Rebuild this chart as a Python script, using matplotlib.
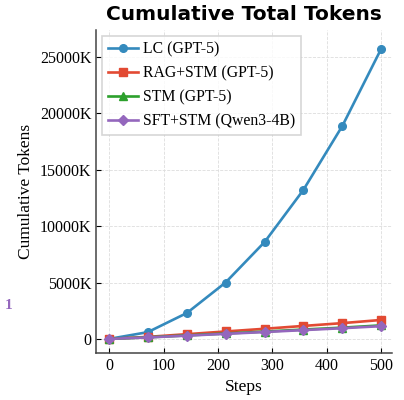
import matplotlib.pyplot as plt
from matplotlib.ticker import FuncFormatter

steps = [0, 71, 143, 214, 286, 357, 429, 500]
lc = [0, 600, 2300, 5000, 8600, 13200, 18900, 25700]
rag_stm = [0, 180, 420, 660, 900, 1150, 1400, 1680]
stm = [0, 140, 310, 480, 650, 830, 1000, 1200]
sft_stm = [0, 130, 290, 450, 610, 780, 950, 1130]

plt.rcParams['font.family'] = ['Liberation Serif', 'DejaVu Serif']

fig = plt.figure(figsize=(4.04, 4.0), dpi=100)
ax = fig.add_axes([0.238, 0.1175, 0.732, 0.8075])

ax.plot(steps, lc, '-o', color='#348ABD', linewidth=1.9, markersize=5.5, label='LC (GPT-5)')
ax.plot(steps, rag_stm, '-s', color='#E24A33', linewidth=1.9, markersize=5.5, label='RAG+STM (GPT-5)')
ax.plot(steps, stm, '-^', color='#2CA02C', linewidth=1.9, markersize=5.5, label='STM (GPT-5)')
ax.plot(steps, sft_stm, '-D', color='#9467BD', linewidth=1.9, markersize=5, label='SFT+STM (Qwen3-4B)')

ax.set_xlim(-24, 520)
ax.set_ylim(-1250, 27400)
ax.set_xticks([0, 100, 200, 300, 400, 500])
ax.set_yticks([0, 5000, 10000, 15000, 20000, 25000])
ax.yaxis.set_major_formatter(FuncFormatter(lambda v, p: '0' if v == 0 else f'{int(v)}K'))
ax.tick_params(direction='in', labelsize=11.5)

ax.spines['top'].set_visible(False)
ax.spines['right'].set_visible(False)
for s in ('left', 'bottom'):
    ax.spines[s].set_color('#444444')
    ax.spines[s].set_linewidth(1.1)
ax.grid(True, linestyle='--', color='#dddddd', linewidth=0.6)

ax.set_xlabel('Steps', fontsize=12.5)
ax.set_ylabel('Cumulative Tokens', fontsize=12.5)
ax.set_title('Cumulative Total Tokens', fontsize=14.5, fontweight='heavy', family='DejaVu Sans', pad=7)

leg = ax.legend(loc='upper left', fontsize=11.3, fancybox=False, edgecolor='#cccccc',
                handlelength=1.9, handletextpad=0.35, borderpad=0.35, labelspacing=0.5,
                borderaxespad=0.4)
leg.get_frame().set_linewidth(1.2)

fig.text(0.012, 0.228, '1', color='#9467BD', fontsize=11, fontweight='bold')

fig.savefig('out.png', dpi=100)
